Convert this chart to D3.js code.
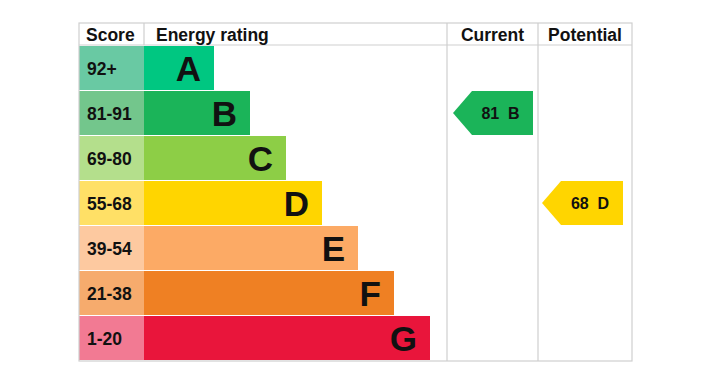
<!DOCTYPE html>
<html>
<head>
<meta charset="utf-8">
<script src="https://cdn.jsdelivr.net/npm/d3@7"></script>
<style>
    body { margin: 0; background: #fff; }
    text { font-family: "Liberation Sans", Arial, sans-serif; font-weight: bold; }
</style>
</head>
<body>
<div id="chart"></div>
<script>
// Rating bands, top to bottom
var bands = ["A", "B", "C", "D", "E", "F", "G"];
var scores = ["92+", "81-91", "69-80", "55-68", "39-54", "21-38", "1-20"];
var barColors = ["#00c781", "#1bb459", "#8dce46", "#ffd500", "#fcaa65", "#ef8023", "#e9153b"];
var scoreColors = ["#69c9a3", "#73c68c", "#b4df8c", "#ffe066", "#fdc9a0", "#f6ab6d", "#f27a93"];
var headers = ["Score", "Energy rating", "Current", "Potential"];
var current = { value: 81, band: "B" };
var potential = { value: 68, band: "D" };

function chart() {
    var width = 704;
    var height = 382;

    var left = 79, right = 632, top = 23, headBottom = 45, bottom = 360;
    var scoreRight = 144, ratingRight = 447, currentRight = 538;

    var svg = d3.select("#chart")
                .append("svg")
                .attr("width", width)
                .attr("height", height);

    var yScale = d3.scaleBand()
                    .domain(bands)
                    .range([headBottom, bottom]);

    // bar end position grows with each band
    var xScale = d3.scaleLinear()
                    .domain([0, bands.length - 1])
                    .range([214, 430]);

    var rows = svg.selectAll("g.row")
            .data(bands)
            .enter()
            .append("g")
            .attr("class", "row")
            .attr("transform", function(d) {
                return "translate(0," + yScale(d) + ")";
            });

    // score cells
    rows.append("rect")
        .attr("x", left)
        .attr("y", 1)
        .attr("width", scoreRight - left)
        .attr("height", yScale.bandwidth() - 1)
        .attr("fill", function(d, i) { return scoreColors[i]; });

    rows.append("text")
        .attr("x", left + 8)
        .attr("y", yScale.bandwidth() / 2 + 1)
        .attr("dy", "0.35em")
        .style("font-size", "17.5px")
        .attr("fill", "#111")
        .text(function(d, i) { return scores[i]; });

    // rating bars
    rows.append("rect")
        .attr("x", scoreRight)
        .attr("y", 1)
        .attr("width", function(d, i) { return xScale(i) - scoreRight; })
        .attr("height", yScale.bandwidth() - 1)
        .attr("fill", function(d, i) { return barColors[i]; });

    rows.append("text")
        .attr("x", function(d, i) { return xScale(i) - 13; })
        .attr("y", yScale.bandwidth() / 2 + 1)
        .attr("dy", "0.36em")
        .attr("text-anchor", "end")
        .style("font-size", "35px")
        .attr("fill", "#111")
        .text(function(d) { return d; });

    // Grid lines
    var grid = svg.append("g")
        .attr("stroke", "#cfcfcf")
        .attr("stroke-width", 1.2)
        .attr("fill", "none");
    grid.append("rect")
        .attr("x", left).attr("y", top)
        .attr("width", right - left).attr("height", bottom + 1 - top);
    grid.append("line")
        .attr("x1", left).attr("x2", right)
        .attr("y1", headBottom).attr("y2", headBottom);
    grid.append("line")
        .attr("x1", scoreRight).attr("x2", scoreRight)
        .attr("y1", top).attr("y2", headBottom);
    [ratingRight, currentRight].forEach(function(x) {
        grid.append("line")
            .attr("x1", x).attr("x2", x)
            .attr("y1", top).attr("y2", bottom + 1);
    });

    // Headers
    var headX = [left + 7, scoreRight + 12, (ratingRight + currentRight) / 2, (currentRight + right) / 2];
    var headAnchor = ["start", "start", "middle", "middle"];
    svg.selectAll("text.head")
        .data(headers)
        .enter()
        .append("text")
        .attr("class", "head")
        .attr("x", function(d, i) { return headX[i]; })
        .attr("y", (top + headBottom) / 2 + 1)
        .attr("dy", "0.36em")
        .attr("text-anchor", function(d, i) { return headAnchor[i]; })
        .style("font-size", "17.5px")
        .attr("fill", "#111")
        .text(function(d) { return d; });

    // Current / potential arrows
    function arrow(rating, x0, x1) {
        var y0 = yScale(rating.band) + 1;
        var h = yScale.bandwidth() - 1;
        var tip = 19;
        var i = bands.indexOf(rating.band);
        var pts = [[x0, y0 + h / 2], [x0 + tip, y0], [x1, y0], [x1, y0 + h], [x0 + tip, y0 + h]];
        svg.append("polygon")
            .attr("points", pts.map(function(p) { return p.join(","); }).join(" "))
            .attr("fill", barColors[i]);
        svg.append("text")
            .attr("x", (x0 + tip + x1) / 2 - 2)
            .attr("y", y0 + h / 2)
            .attr("dy", "0.36em")
            .attr("text-anchor", "middle")
            .style("font-size", "16px")
            .attr("fill", "#111")
            .text(rating.value + "\u00a0 " + rating.band);
    }
    arrow(current, 453, 533);
    arrow(potential, 542, 623);
}

chart();
</script>
</body>
</html>
